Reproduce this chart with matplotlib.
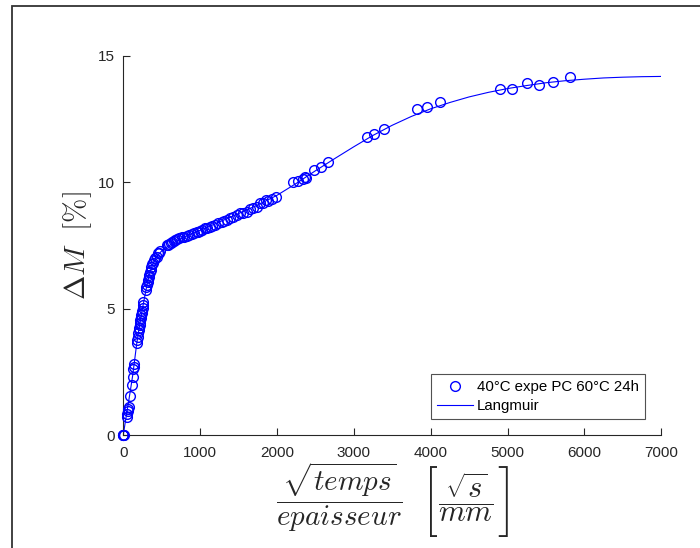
import matplotlib.pyplot as plt
from matplotlib.patches import Rectangle

plt.rcParams['mathtext.fontset'] = 'cm'
plt.rcParams['font.family'] = ['Liberation Sans', 'DejaVu Sans']

# Mesures : prise de masse vs sqrt(t)/epaisseur
x_expe = [0, 0, 3, 8,
          44, 52, 58, 65, 70, 87, 109, 122, 130, 135, 143,
          174, 180, 187, 195, 202, 208, 213, 217, 224, 230, 235, 239, 245, 252, 258, 262,
          295, 303, 312, 318, 325, 332, 338, 346, 356, 368, 380, 390, 405, 420, 434, 455, 469, 478,
          564, 580, 600, 620, 640, 660, 680, 700, 725, 760, 790, 825, 860, 890, 920, 955, 975, 998,
          1030, 1063, 1095, 1128, 1160, 1193, 1235, 1280, 1310, 1345, 1389, 1430, 1484, 1519,
          1560, 1606, 1649, 1690, 1736, 1779, 1822, 1857, 1880, 1931, 1987,
          2212, 2277, 2343, 2365, 2380, 2485, 2573, 2668,
          3167, 3266, 3392, 3826, 3956, 4121, 4902, 5054, 5257, 5405, 5587, 5813]
y_expe = [0, 0, 0.02, 0.03,
          0.74, 0.85, 0.95, 1.03, 1.1, 1.57, 1.99, 2.32, 2.6, 2.71, 2.82,
          3.63, 3.75, 3.88, 4.03, 4.15, 4.23, 4.35, 4.42, 4.55, 4.62, 4.75, 4.82, 4.93, 5.02, 5.15, 5.28,
          5.74, 5.85, 5.95, 6.05, 6.14, 6.25, 6.33, 6.45, 6.53, 6.65, 6.75, 6.8, 6.92, 7.0, 7.06, 7.19, 7.22, 7.28,
          7.5, 7.52, 7.56, 7.6, 7.64, 7.68, 7.72, 7.74, 7.78, 7.82, 7.85, 7.87, 7.92, 7.95, 7.99, 8.02, 8.05, 8.08,
          8.12, 8.18, 8.21, 8.24, 8.28, 8.31, 8.38, 8.44, 8.48, 8.51, 8.57, 8.62, 8.69, 8.78,
          8.8, 8.84, 8.93, 8.98, 9.03, 9.17, 9.19, 9.3, 9.25, 9.32, 9.43,
          10.0, 10.06, 10.11, 10.2, 10.17, 10.48, 10.61, 10.79,
          11.77, 11.9, 12.1, 12.89, 12.98, 13.18, 13.67, 13.67, 13.93, 13.83, 13.97, 14.17]

# Courbe du modele de Langmuir
x_lang = [0, 25, 50, 75, 100, 125, 150, 175, 200, 225, 250, 275, 300, 325, 350, 375, 400,
          425, 450, 500, 550, 600, 700, 800, 1000, 1200, 1500, 1750, 2000, 2250, 2500, 2750,
          3000, 3250, 3500, 3750, 4000, 4250, 4500, 4750, 5000, 5250, 5500, 5750, 6000,
          6250, 6500, 6750, 7000]
y_lang = [0, 0.48, 0.95, 1.42, 1.9, 2.4, 3.0, 3.6, 4.1, 4.55, 5.0, 5.4, 5.8, 6.15, 6.45, 6.68, 6.87,
          7.0, 7.12, 7.28, 7.4, 7.5, 7.68, 7.84, 8.1, 8.36, 8.76, 9.1, 9.48, 9.95, 10.45, 10.93,
          11.4, 11.85, 12.25, 12.6, 12.9, 13.15, 13.37, 13.55, 13.7, 13.82, 13.93, 14.01, 14.07,
          14.12, 14.15, 14.17, 14.18]

W, H = 700, 548
fig = plt.figure(figsize=(7, 5.48), dpi=100)
ax = fig.add_axes([0.176, 0.2057, 0.7686, 0.6927])

ax.plot(x_expe, y_expe, 'o', mfc='none', mec='blue', ms=7, mew=1.0,
        clip_on=False, zorder=3, label='40°C expe PC 60°C 24h')
ax.plot(x_lang, y_lang, '-', color='blue', lw=0.8, label='Langmuir')

ax.set_xlim(0, 7000)
ax.set_ylim(0, 15)
ax.set_xticks(range(0, 7001, 1000))
ax.set_yticks([0, 5, 10, 15])
ax.spines['top'].set_visible(False)
ax.spines['right'].set_visible(False)
for s in ('left', 'bottom'):
    ax.spines[s].set_color('#262626')
    ax.spines[s].set_linewidth(0.8)
ax.tick_params(direction='in', length=5, width=0.8, colors='#262626',
               labelsize=11, labelcolor='#262626')
ax.tick_params(axis='x', pad=8)
ax.tick_params(axis='y', pad=6)

ax.set_ylabel(r'$\Delta M\ \ [\%]$', fontsize=21, color='#262626', labelpad=3)

# label x : fraction + unite entre crochets
fig.text(339.5 / W, 1 - 497 / H,
         r'$\dfrac{\sqrt{temps}}{epaisseur}$',
         fontsize=21, color='#262626', ha='center', va='center')
fig.text(466 / W, 1 - 497 / H,
         r'$\dfrac{\sqrt{s}}{mm}$',
         fontsize=22, color='#262626', ha='center', va='center')

# crochets hauts et fins : \left[ ... \right] en grand, on ne garde que le crochet
unit = r'$\left[\dfrac{\sqrt{s}}{mm}\right]$'
for xc, x0, x1 in [(478, 400, 437), (450, 496, 530)]:
    t = fig.text(xc / W, 1 - 501 / H, unit, fontsize=33, color='#262626',
                 ha='center', va='center')
    t.set_clip_path(Rectangle((x0 / W, 1 - 545 / H), (x1 - x0) / W, 90 / H,
                              transform=fig.transFigure))

leg = ax.legend(loc='lower right', bbox_to_anchor=(0.970, 0.043), borderaxespad=0,
                fontsize=10.8, frameon=True, fancybox=False, handlelength=2.4,
                borderpad=0.4, labelspacing=0.3, handletextpad=0.3)
leg.get_frame().set_edgecolor('#262626')
leg.get_frame().set_linewidth(0.8)

# cadre de la fenetre
fig.patches.append(Rectangle((12 / W, -0.1), 1.2, 1 - 6 / H + 0.1,
                             transform=fig.transFigure, fill=False,
                             edgecolor='#333333', lw=1.3))

fig.savefig('out.png', dpi=100)
